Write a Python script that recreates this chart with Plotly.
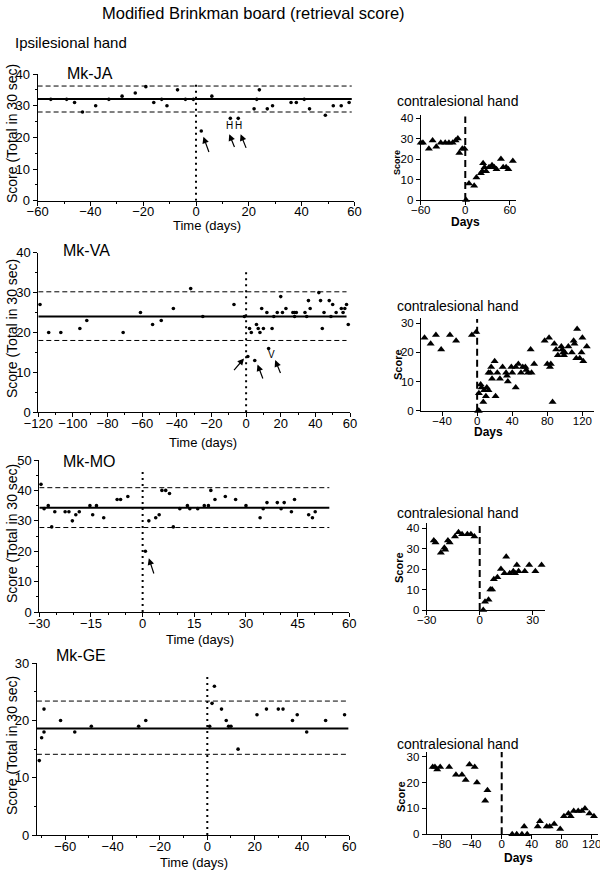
import plotly.graph_objects as go

W, H = 600, 872
FONT = "Liberation Sans, Arial, Helvetica, sans-serif"

# ---------------- data: ipsilesional hand ----------------
ja_day = [-55, -49, -46, -43, -38, -33, -28, -23, -19, -16, -13, -11, -7, -4, -1, 2, 6, 13, 16,
          22, 23, 24, 27, 29, 36, 38, 41, 43, 49, 52, 55, 58]
ja_score = [32, 32, 31, 28, 30, 32, 33, 34, 36, 31, 32, 30, 35, 32, 32, 22, 33, 26, 26,
            29, 32, 35, 29, 30, 31, 31, 32, 29, 27, 30, 30, 31]
ja_mean, ja_upper, ja_lower = 32.1, 36.2, 28.0

va_day = [-119, -114, -107, -96, -92, -71, -61, -54, -49, -42, -32, -25, -7, -1, 1, 2, 3, 5, 6, 7,
          8, 9, 10, 12, 13, 15, 16, 18, 20, 21, 23, 27, 28, 28, 29, 34, 35, 36, 37, 42,
          43, 44, 45, 48, 49, 50, 52, 55, 56, 57, 58, 59]
va_score = [27, 20, 20, 21, 23, 20, 25, 22, 23, 26, 31, 24, 27, 24, 14, 21, 20, 13, 22, 21,
            20, 26, 21, 25, 16, 21, 24, 25, 29, 25, 26, 25, 25, 24, 25, 25, 24, 28, 26, 30,
            28, 21, 25, 28, 24, 27, 25, 26, 25, 26, 27, 22]
va_mean, va_upper, va_lower = 24.0, 30.2, 18.0

mo_day = [-29.5, -28.6, -27.4, -26.4, -25.5, -22.5, -21.4, -20.4, -19.4, -18.4, -15.3, -14.5,
          -13.4, -11.3, -7.4, -6.4, -4.3, 0.8, 1.8, 3.8, 4.8, 5.6, 6.7, 7.8, 8.9, 10.8, 13.0,
          13.7, 16.0, 17.9, 19.1, 19.8, 21.0, 24.0, 27.0, 30.0, 34.1, 35.0, 36.1, 39.1, 40.2,
          41.1, 43.2, 44.1, 48.2, 49.3, 50.1]
mo_score = [42, 34, 35, 28, 33, 33, 33, 30, 32, 33, 35, 32,
            35, 31, 37, 37, 38, 20, 30, 31, 32, 40, 40, 39, 28, 34, 35,
            34, 34, 35, 35, 40, 37, 38, 37, 35, 31, 34, 36, 36, 34,
            36, 33, 37, 32, 31, 33]
mo_mean, mo_upper, mo_lower = 34.3, 40.9, 27.8

ge_day = [-71, -70, -69, -69, -62, -56, -49, -29, -26, 1, 2, 3, 6, 8, 9, 10, 13, 21, 25, 30,
          32, 36, 38, 42, 50, 58]
ge_score = [13, 17, 22, 18, 20, 18, 19, 19, 20, 19, 23, 26, 22, 20, 19, 19, 15, 21, 22, 22,
            22, 20, 21, 18, 20, 21]
ge_mean, ge_upper, ge_lower = 18.6, 23.4, 14.1

# ---------------- data: contralesional hand ----------------
ja_c_day = [-60, -57, -49, -44, -39, -33, -27, -22, -17, -13, -10, -8, -4, -1, 1, 5, 12, 15, 21, 23,
            24, 26, 28, 32, 36, 39, 42, 48, 51, 55, 58, 64]
ja_c_score = [28, 28, 25, 29, 26, 28, 28, 28, 28, 29, 30, 23, 25, 25, 0, 8, 7, 11, 13, 14,
              18, 16, 14, 16, 17, 16, 15, 20, 16, 16, 15, 19]

va_c_day = [-60, -53, -47, -41, -31, -24, -6, -1,
            1, 2, 2, 4, 5, 7, 8, 10, 11, 13, 13, 15, 16, 17, 20, 21, 23, 26, 29, 33, 34, 35,
            39, 40, 44, 44, 47, 50, 52, 55, 56, 58, 61, 62, 65, 77, 80, 82, 83, 84, 86, 88,
            90, 92, 96, 97, 98, 99, 100, 104, 108, 110, 111, 113, 114, 117, 119, 120, 121, 125]
va_c_score = [25, 23, 26, 21, 26, 24, 26, 27,
              0, 0, 6, 9, 8, 3, 7, 5, 8, 7, 13, 13, 15, 11, 17, 5, 13, 11, 15, 13, 12, 10,
              15, 13, 8, 15, 16, 13, 15, 15, 14, 13, 21, 13, 16, 24, 16, 25, 15, 16, 3, 23,
              21, 19, 22, 21, 20, 19, 20, 22, 20, 24, 23, 18, 28, 18, 20, 25, 17, 22]

mo_c_day = [-26, -25, -22, -20, -19.5, -18, -17, -14, -12, -10, -7, -5, -3, 2, 3, 5, 6, 7, 8, 10,
            12, 14, 15, 17, 19, 20, 21, 22, 25.5, 28, 31.5, 35]
mo_c_score = [34, 33, 28, 30.5, 29.5, 34, 33, 36, 38, 37, 37, 37, 36, 0, 4, 5, 10, 10, 15, 16,
              20, 18, 26, 18, 19, 18, 22, 19, 19, 22, 19, 22]

ge_c_day = [-92, -89, -86, -82, -70, -61, -53, -48, -43, -36, -33, -22, -19, 14, 20, 27, 30, 34,
            48, 51, 60, 64, 70, 78, 83, 89, 92, 96, 102, 107, 111, 117, 123]
ge_c_score = [26, 26, 25, 26, 26, 23, 23, 21, 27, 26, 20, 13, 17, 0, 0, 0, 3, 0,
              3, 5, 3, 3, 4, 2, 7, 8, 7, 9, 9, 9, 10, 8, 7]

# arrows (head x, head y, tail x, tail y) and marker letters
ja_arrows = [(2.8, 20.2, 5.1, 14.9), (12.6, 21.0, 14.8, 16.5), (16.9, 21.0, 19.2, 16.2)]
ja_letters = [(12.6, 23.8, "H"), (16.2, 23.8, "H")]
va_arrows = [(-1.2, 13.5, -7.7, 10.2), (6.6, 12.0, 10.0, 8.1), (16.8, 13.1, 20.2, 9.5)]
va_letters = [(14.8, 14.6, "V")]
mo_arrows = [(1.8, 17.7, 3.4, 12.2)]

# ---------------- figure ----------------
def fx(px):
    return px / W


def fy(py):
    return 1 - py / H


fig = go.Figure()
shapes, annotations = [], []
layout_axes = {}

main_panels = [
    dict(label="Mk-JA", day=ja_day, score=ja_score, mean=ja_mean, up=ja_upper, lo=ja_lower,
         xr=[-60, 60], yr=[0, 40], xd=20, xm=10, yd=10, ym=5, xpx=(37.6, 354.4), ypx=(74, 200.7),
         lend=59, dtop=37, arrows=ja_arrows, letters=ja_letters, lab=(65, 74),
         ytl=134, xtl=(207, 226)),
    dict(label="Mk-VA", day=va_day, score=va_score, mean=va_mean, up=va_upper, lo=va_lower,
         xr=[-120, 60], yr=[0, 40], xd=20, xm=10, yd=10, ym=5, xpx=(38.3, 350), ypx=(252.7, 412.3),
         lend=58, dtop=36, arrows=va_arrows, letters=va_letters, lab=(61, 251),
         ytl=329, xtl=(203, 442)),
    dict(label="Mk-MO", day=mo_day, score=mo_score, mean=mo_mean, up=mo_upper, lo=mo_lower,
         xr=[-30, 60], yr=[0, 50], xd=15, xm=5, yd=10, ym=5, xpx=(39.3, 349.3), ypx=(460, 612.1),
         lend=54.2, dtop=47, arrows=mo_arrows, letters=[], lab=(61, 461),
         ytl=534, xtl=(200, 639)),
    dict(label="Mk-GE", day=ge_day, score=ge_score, mean=ge_mean, up=ge_upper, lo=ge_lower,
         xr=[-72, 60], yr=[0, 30], xd=20, xm=10, yd=10, ym=5, xpx=(36.9, 349.3), ypx=(663.3, 835),
         lend=59.6, dtop=28, arrows=[], letters=[], lab=(54, 655),
         ytl=746, xtl=(194, 862)),
]

small_panels = [
    dict(day=ja_c_day, score=ja_c_score, xr=[-60, 68], yr=[0, 41.5], xd=60, yd=10,
         xpx=(420.7, 515.8), ypx=(115, 200), dtop=40.8, title=101, ylab=(397, 163), ysize=9,
         days=(466, 222)),
    dict(day=va_c_day, score=va_c_score, xr=[-64, 133], yr=[0, 31.7], xd=40, yd=10,
         xpx=(421, 593.8), ypx=(318.3, 410.7), dtop=31.5, title=306, ylab=(398, 365), ysize=11,
         days=(488, 432)),
    dict(day=mo_c_day, score=mo_c_score, xr=[-30, 37], yr=[0, 42.4], xd=30, yd=10,
         xpx=(426.7, 545.1), ypx=(523.3, 610), dtop=42, title=513, ylab=(399, 568), ysize=11,
         days=None),
    dict(day=ge_c_day, score=ge_c_score, xr=[-100, 128], yr=[0, 31.8], xd=40, yd=10,
         xpx=(426.7, 597.7), ypx=(752, 834.3), dtop=31.8, title=744, ylab=(401, 797), ysize=11,
         days=(518, 858)),
]


def axis_names(i):
    xa = "x" if i == 1 else f"x{i}"
    ya = "y" if i == 1 else f"y{i}"
    return xa, ya, ("xaxis" if i == 1 else f"xaxis{i}"), ("yaxis" if i == 1 else f"yaxis{i}")


def base_axis(dom, rng, dtick, minor, fsize, anchor, standoff=0):
    ax = dict(domain=dom, range=rng, anchor=anchor, showline=True, linecolor="black",
              linewidth=1, ticks="outside", ticklen=4, tickcolor="black", tickwidth=1,
              tickmode="linear", tick0=0, dtick=dtick, showgrid=False, zeroline=False,
              automargin=False, ticklabelstandoff=standoff, ticklabeloverflow="allow",
              tickfont=dict(family=FONT, size=fsize, color="black"), fixedrange=True)
    if minor:
        ax["minor"] = dict(dtick=minor, ticks="outside", ticklen=2, tickcolor="black",
                           showgrid=False)
    return ax


idx = 0
for p in main_panels:
    idx += 1
    xa, ya, xk, yk = axis_names(idx)
    layout_axes[xk] = base_axis([fx(p["xpx"][0]), fx(p["xpx"][1])], p["xr"], p["xd"], p["xm"],
                                13, ya, standoff=-5)
    layout_axes[yk] = base_axis([fy(p["ypx"][1]), fy(p["ypx"][0])], p["yr"], p["yd"], p["ym"],
                                13, xa)
    fig.add_trace(go.Scatter(x=p["day"], y=p["score"], mode="markers", xaxis=xa, yaxis=ya,
                             marker=dict(color="black", size=3.6), showlegend=False,
                             cliponaxis=False, hoverinfo="x+y"))
    x0 = p["xr"][0]
    shapes.append(dict(type="line", xref=xa, yref=ya, x0=x0, x1=p["lend"], y0=p["mean"],
                       y1=p["mean"], line=dict(color="black", width=2)))
    for v in (p["up"], p["lo"]):
        shapes.append(dict(type="line", xref=xa, yref=ya, x0=x0, x1=p["lend"], y0=v, y1=v,
                           line=dict(color="black", width=1, dash="5px,3px")))
    shapes.append(dict(type="line", xref=xa, yref=ya, x0=0, x1=0, y0=0, y1=p["dtop"],
                       line=dict(color="black", width=2, dash="2px,4px")))
    for hx, hy, tx, ty in p["arrows"]:
        annotations.append(dict(x=hx, y=hy, ax=tx, ay=ty, xref=xa, yref=ya, axref=xa, ayref=ya,
                                text="", showarrow=True, arrowhead=2, arrowsize=1.1,
                                arrowwidth=1.2, arrowcolor="black"))
    for lx, ly, t in p["letters"]:
        annotations.append(dict(x=lx, y=ly, xref=xa, yref=ya, text=t, showarrow=False,
                                font=dict(family=FONT, size=10, color="black")))
    annotations.append(dict(x=fx(p["lab"][0]), y=fy(p["lab"][1]), xref="paper", yref="paper",
                            text=p["label"], showarrow=False, xanchor="left", yanchor="middle",
                            font=dict(family=FONT, size=16, color="black")))
    annotations.append(dict(x=fx(12), y=fy(p["ytl"]), xref="paper", yref="paper",
                            text="Score (Total in 30 sec)", textangle=-90, showarrow=False,
                            xanchor="center", yanchor="middle",
                            font=dict(family=FONT, size=14, color="black")))
    annotations.append(dict(x=fx(p["xtl"][0]), y=fy(p["xtl"][1]), xref="paper", yref="paper",
                            text="Time (days)", showarrow=False, xanchor="center",
                            yanchor="middle", font=dict(family=FONT, size=13, color="black")))

for s in small_panels:
    idx += 1
    xa, ya, xk, yk = axis_names(idx)
    layout_axes[xk] = base_axis([fx(s["xpx"][0]), fx(s["xpx"][1])], s["xr"], s["xd"], None,
                                11.5, ya, standoff=-5)
    layout_axes[yk] = base_axis([fy(s["ypx"][1]), fy(s["ypx"][0])], s["yr"], s["yd"], None,
                                11.5, xa)
    fig.add_trace(go.Scatter(x=s["day"], y=s["score"], mode="markers", xaxis=xa, yaxis=ya,
                             marker=dict(color="black", size=7, symbol="triangle-up"),
                             showlegend=False, cliponaxis=False, hoverinfo="x+y"))
    shapes.append(dict(type="line", xref=xa, yref=ya, x0=0, x1=0, y0=0, y1=s["dtop"],
                       line=dict(color="black", width=2, dash="7px,4px")))
    annotations.append(dict(x=fx(457), y=fy(s["title"]), xref="paper", yref="paper",
                            text="contralesional hand", showarrow=False, xanchor="center",
                            yanchor="middle", font=dict(family=FONT, size=14, color="black")))
    annotations.append(dict(x=fx(s["ylab"][0]), y=fy(s["ylab"][1]), xref="paper", yref="paper",
                            text="<b>Score</b>", textangle=-90, showarrow=False,
                            xanchor="center", yanchor="middle",
                            font=dict(family=FONT, size=s["ysize"], color="black")))
    if s["days"]:
        annotations.append(dict(x=fx(s["days"][0]), y=fy(s["days"][1]), xref="paper",
                                yref="paper", text="<b>Days</b>", showarrow=False,
                                xanchor="center", yanchor="middle",
                                font=dict(family=FONT, size=12, color="black")))

annotations.append(dict(x=fx(253), y=fy(13), xref="paper", yref="paper",
                        text="Modified Brinkman board (retrieval score)", showarrow=False,
                        xanchor="center", yanchor="middle",
                        font=dict(family=FONT, size=16.5, color="black")))
annotations.append(dict(x=fx(13), y=fy(43), xref="paper", yref="paper",
                        text="Ipsilesional hand", showarrow=False, xanchor="left",
                        yanchor="middle", font=dict(family=FONT, size=15, color="black")))

fig.update_layout(width=W, height=H,
                  margin=dict(l=0, r=0, t=0, b=0, pad=0, autoexpand=False),
                  paper_bgcolor="white", plot_bgcolor="white", showlegend=False,
                  shapes=shapes, annotations=annotations,
                  font=dict(family=FONT, color="black"), **layout_axes)

fig.write_html("out.html", config={"displayModeBar": False, "staticPlot": True},
               post_script="document.body.style.margin='0';document.body.style.overflow='hidden';")
